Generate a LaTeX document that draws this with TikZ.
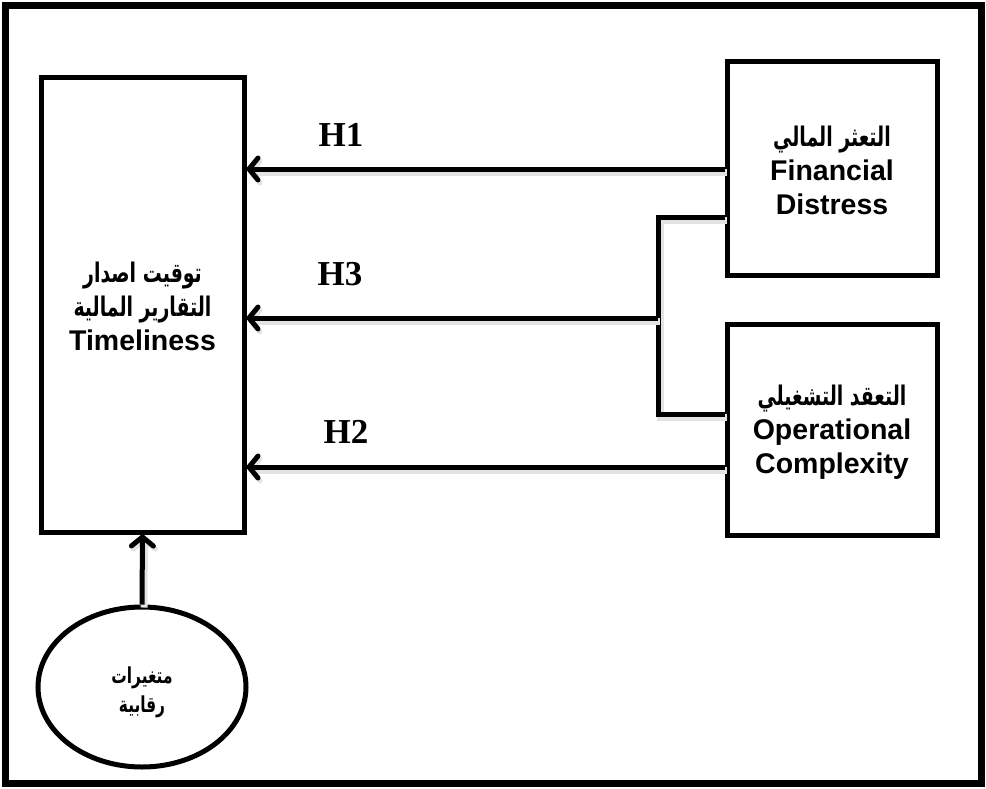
\documentclass[tikz,border=0pt]{standalone}
\usepackage{fontspec}
\setmainfont{Liberation Sans}
\newfontfamily\arabicfont[Script=Arabic,FakeStretch=0.7]{DejaVu Sans}
\newfontfamily\hfont{Liberation Serif}
\TeXXeTstate=1
\usetikzlibrary{arrows.meta,shapes.geometric}
\newcommand{\ar}[1]{{\arabicfont\bfseries\fontsize{27}{34}\selectfont\beginR #1\endR}}
\newcommand{\arsmall}[1]{{\arabicfont\bfseries\fontsize{22}{29}\selectfont\beginR #1\endR}}
\tikzset{
  boxnode/.style={draw, line width=5pt, rectangle, inner sep=0pt},
  txt/.style={align=center, inner sep=0pt, font=\bfseries\fontsize{28.5}{34}\selectfont},
  shade line/.style={preaction={draw=black!11, line width=7pt, transform canvas={shift={(2pt,-3pt)}}}},
  conn/.style={line width=5pt, shade line},
  arr/.style={line width=5pt, shade line, -{Straight Barb[length=9pt,width=22pt,line width=5pt,round]}},
  hlab/.style={font=\hfont\bfseries\fontsize{35}{35}\selectfont, inner sep=0pt},
}
\begin{document}
\begin{tikzpicture}[x=1pt,y=-1pt]
\useasboundingbox (0,0) rectangle (986,788);
\draw[line width=7pt] (5,5) rectangle (981,783);
\coordinate (y1) at (0,169);
\coordinate (y2) at (0,467);
\coordinate (yt) at (0,217);
\coordinate (yb) at (0,414);
\coordinate (j) at (658,318);
\node[boxnode, minimum width=203pt, minimum height=455pt] (tl) at (142.5,304.5) {};
\node[boxnode, minimum width=210pt, minimum height=214pt] (fd) at (832,168) {};
\node[boxnode, minimum width=210pt, minimum height=211pt] (oc) at (832,429.5) {};
\node[draw, line width=5pt, ellipse, minimum width=208pt, minimum height=160pt, inner sep=0pt] (ctl) at (142,687) {};
\draw[arr] (fd.west |- y1) -- (tl.east |- y1);
\draw[arr] (oc.west |- y2) -- (tl.east |- y2);
\draw[conn] (fd.west |- yt) -| (j) |- (oc.west |- yb);
\draw[arr] (j) -- (j -| tl.east);
\draw[arr] (ctl.north) -- (tl.south);
\node[txt] (tltext) at (142.5,306)
  {\ar{توقيت اصدار}\\ \ar{التقارير المالية}\\ Timeliness};
\node[txt] (fdtext) at (832,170)
  {\ar{التعثر المالي}\\ Financial\\ Distress};
\node[txt] (octext) at (832,432)
  {\ar{التعقد التشغيلي}\\ Operational\\ Complexity};
\node[align=center, inner sep=0pt, font=\fontsize{22}{29}\selectfont] (ctltext) at (142,692)
  {\arsmall{متغيرات}\\ \arsmall{رقابية}};
\node[hlab] (h1) at (341,135) {H1};
\node[hlab] (h3) at (340,274) {H3};
\node[hlab] (h2) at (346,432) {H2};
\end{tikzpicture}
\end{document}
